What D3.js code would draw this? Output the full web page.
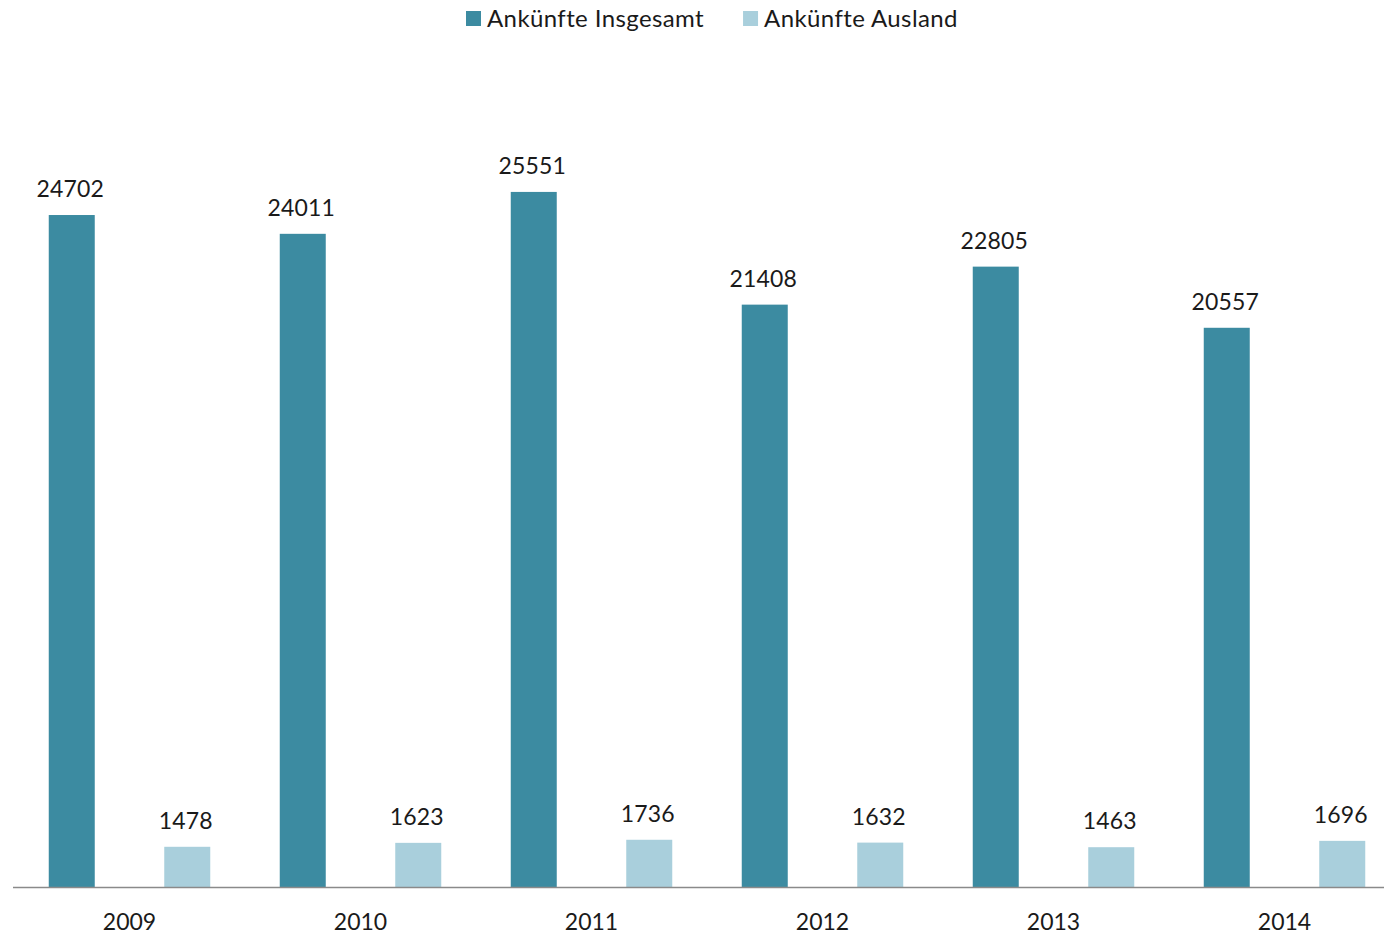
<!DOCTYPE html>
<html>
<head>
<meta charset="utf-8">
<script src="https://cdn.jsdelivr.net/npm/d3@7"></script>
<style>
  html, body { margin: 0; padding: 0; background: #fff; }
  svg { display: block; font-family: Lato, "Open Sans", sans-serif; }
</style>
</head>
<body>
<svg id="chart" width="1384" height="934"></svg>
<script>
const years = ["2009", "2010", "2011", "2012", "2013", "2014"];
const seriesNames = ["Ankünfte Insgesamt", "Ankünfte Ausland"];
const insgesamt = [24702, 24011, 25551, 21408, 22805, 20557];
const ausland = [1478, 1623, 1736, 1632, 1463, 1696];
const colors = ["#3C8BA1", "#A9CFDC"];

const svg = d3.select("#chart");
const baseY = 887;

const x0 = d3.scaleBand().domain(years).range([14, 1400]).padding(0);
const x1 = d3.scaleBand().domain([0, 1]).range([0, x0.bandwidth()])
  .paddingInner(0.6017).paddingOuter(0.30085);
const y = d3.scaleLinear().domain([0, 30000]).range([baseY, baseY - 816.1]);

const data = years.map((yr, i) => ({ year: yr, values: [insgesamt[i], ausland[i]] }));

const groups = svg.selectAll("g.grp").data(data).join("g")
  .attr("class", "grp")
  .attr("transform", d => `translate(${x0(d.year)},0)`);

groups.selectAll("rect").data(d => d.values.map((v, k) => ({ v, k }))).join("rect")
  .attr("x", d => x1(d.k))
  .attr("width", x1.bandwidth())
  .attr("y", d => y(d.v))
  .attr("height", d => baseY - y(d.v))
  .attr("fill", d => colors[d.k]);

groups.selectAll("text.val").data(d => d.values.map((v, k) => ({ v, k }))).join("text")
  .attr("class", "val")
  .attr("x", d => x1(d.k) + x1.bandwidth() / 2 - 1.5)
  .attr("y", d => y(d.v) - 18)
  .attr("text-anchor", "middle")
  .attr("font-size", 23)
  .attr("letter-spacing", 0.2)
  .attr("fill", "#1a1a1a")
  .text(d => d.v);

// x axis
const axis = svg.append("g")
  .attr("transform", `translate(0,${baseY})`)
  .call(d3.axisBottom(x0).tickSize(0).tickPadding(0));
axis.select(".domain").attr("stroke", "#8a8a8a").attr("stroke-width", 1.3)
  .attr("d", "M13,0.5H1384");
axis.selectAll(".tick text")
  .attr("font-size", 23)
  .attr("font-family", "Lato, 'Open Sans', sans-serif")
  .attr("fill", "#1a1a1a")
  .attr("dy", 0)
  .attr("y", 43);

// legend
const legend = svg.append("g");
let lx = 466;
seriesNames.forEach((name, k) => {
  legend.append("rect").attr("x", lx).attr("y", 11).attr("width", 15).attr("height", 15)
    .attr("fill", colors[k]);
  const t = legend.append("text").attr("x", lx + 21).attr("y", 27)
    .attr("font-size", 24).attr("letter-spacing", 0.4).attr("fill", "#1a1a1a").text(name);
  const w = t.node().getComputedTextLength();
  lx = lx + 21 + w + 39;
});
</script>
</body>
</html>
